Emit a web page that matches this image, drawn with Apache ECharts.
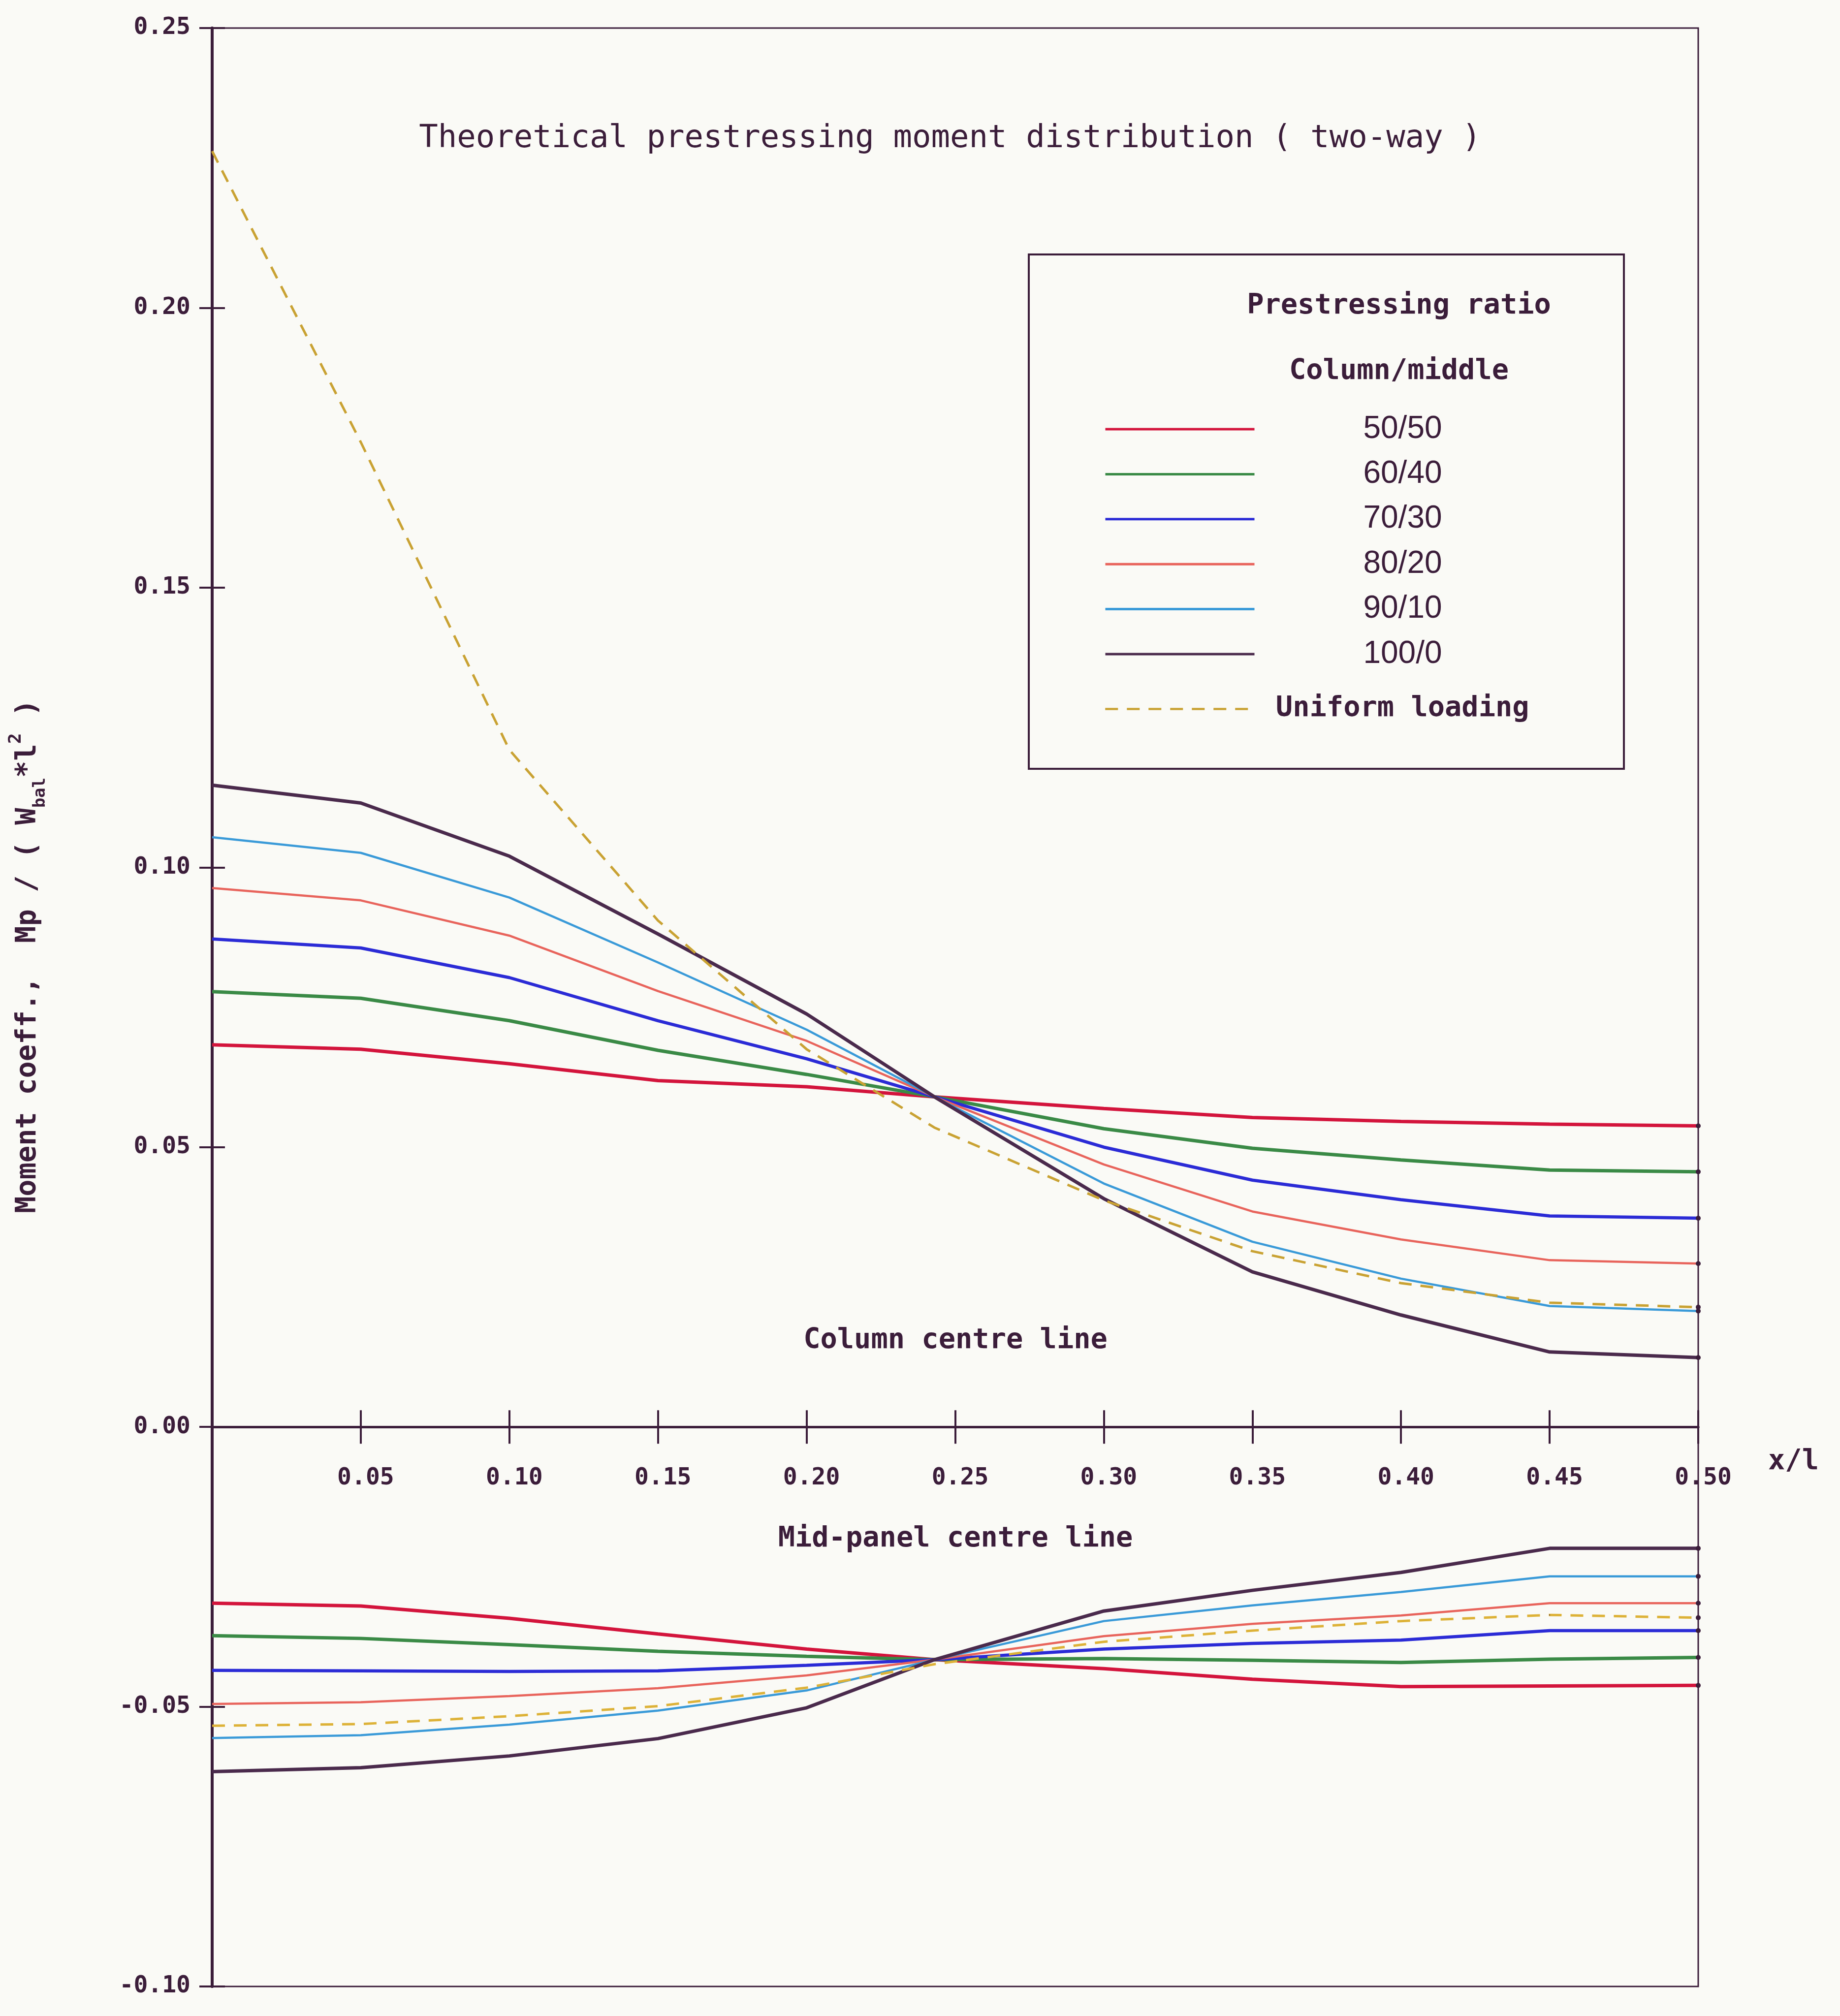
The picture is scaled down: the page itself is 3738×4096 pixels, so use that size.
<!DOCTYPE html>
<html>
<head>
<meta charset="utf-8">
<script src="https://cdn.jsdelivr.net/npm/echarts@6/dist/echarts.min.js"></script>
<style>
html,body{margin:0;padding:0;background:#fafaf6;}
#chart{width:3738px;height:4096px;}
</style>
</head>
<body>
<div id="chart"></div>
<script>
// x/l positions of the computed points
const xPos = [0, 0.05, 0.10, 0.15, 0.20, 0.243, 0.30, 0.35, 0.40, 0.45, 0.50];
const xTicks = [0.05, 0.10, 0.15, 0.20, 0.25, 0.30, 0.35, 0.40, 0.45, 0.50];
const yTicks = [-0.10, -0.05, 0.00, 0.05, 0.10, 0.15, 0.20, 0.25];

const ratioNames = ['50/50', '60/40', '70/30', '80/20', '90/10', '100/0'];
const uniformName = 'Uniform loading';

// Column centre line (upper curves)
const col50  = [0.0683, 0.0675, 0.0649, 0.0619, 0.0608, 0.0590, 0.0569, 0.0553, 0.0546, 0.0541, 0.0538];
const col60  = [0.0778, 0.0766, 0.0726, 0.0673, 0.0630, 0.0590, 0.0533, 0.0498, 0.0477, 0.0459, 0.0456];
const col70  = [0.0872, 0.0856, 0.0803, 0.0726, 0.0658, 0.0590, 0.0500, 0.0441, 0.0406, 0.0377, 0.0373];
const col80  = [0.0963, 0.0941, 0.0878, 0.0779, 0.0690, 0.0590, 0.0469, 0.0385, 0.0335, 0.0298, 0.0292];
const col90  = [0.1054, 0.1026, 0.0946, 0.0830, 0.0710, 0.0590, 0.0435, 0.0331, 0.0265, 0.0216, 0.0207];
const col100 = [0.1147, 0.1115, 0.1020, 0.0881, 0.0738, 0.0590, 0.0408, 0.0277, 0.0200, 0.0134, 0.0124];
const colUni = [0.2280, 0.1760, 0.1210, 0.0905, 0.0675, 0.0535, 0.0405, 0.0314, 0.0257, 0.0222, 0.0214];

// Mid-panel centre line (lower curves)
const mid50  = [-0.0315, -0.0320, -0.0342, -0.0370, -0.0397, -0.0416, -0.0432, -0.0451, -0.0464, -0.0463, -0.0462];
const mid60  = [-0.0373, -0.0378, -0.0389, -0.0401, -0.0410, -0.0416, -0.0414, -0.0417, -0.0421, -0.0415, -0.0412];
const mid70  = [-0.0435, -0.0436, -0.0437, -0.0436, -0.0426, -0.0416, -0.0397, -0.0387, -0.0381, -0.0364, -0.0364];
const mid80  = [-0.0495, -0.0492, -0.0481, -0.0467, -0.0444, -0.0416, -0.0374, -0.0352, -0.0337, -0.0315, -0.0315];
const mid90  = [-0.0556, -0.0551, -0.0532, -0.0507, -0.0471, -0.0416, -0.0347, -0.0319, -0.0295, -0.0267, -0.0267];
const mid100 = [-0.0616, -0.0609, -0.0588, -0.0557, -0.0502, -0.0416, -0.0329, -0.0292, -0.0260, -0.0217, -0.0217];
const midUni = [-0.0534, -0.0531, -0.0517, -0.0499, -0.0466, -0.0424, -0.0384, -0.0364, -0.0347, -0.0336, -0.0341];

const colSets = [col50, col60, col70, col80, col90, col100];
const midSets = [mid50, mid60, mid70, mid80, mid90, mid100];

const colors = ['#d3143c', '#3a8a46', '#2b2bd6', '#e8645c', '#3a9ad8', '#4a2a4c'];
const widths = [7, 7, 6.5, 4.5, 4.5, 7];
const uniColor = '#c9a233';
const ink = '#3b1d3a';
const mono = "'DejaVu Sans Mono', monospace";

function pairs(vals) { return xPos.map((x, i) => [x, vals[i]]); }
const lastIdx = xPos.length - 1;
const endDot = (v, p) => (p.dataIndex === lastIdx ? 10 : 0);

const series = [];
ratioNames.forEach((n, k) => {
  [colSets[k], midSets[k]].forEach(vals => {
    series.push({
      name: n, type: 'line', data: pairs(vals), symbol: 'circle', symbolSize: endDot, showSymbol: true,
      smooth: false, xAxisIndex: 0, yAxisIndex: 0,
      lineStyle: { color: colors[k], width: widths[k] }, itemStyle: { color: ink }
    });
  });
});
[colUni, midUni].forEach(vals => {
  series.push({
    name: uniformName, type: 'line', data: pairs(vals), symbol: 'circle', symbolSize: endDot, showSymbol: true,
    smooth: false, xAxisIndex: 0, yAxisIndex: 0,
    lineStyle: { color: uniColor, width: 5, type: [26, 18] }, itemStyle: { color: ink }
  });
});

const xMin = 0, xMax = 0.5, xInt = 0.05;
const yMin = yTicks[0], yMax = yTicks[yTicks.length - 1], yInt = 0.05;

// plot geometry
const HH = 4096;
const G = { left: 431, right: 288, top: 57, bottom: 60 };
const H = HH - G.top - G.bottom;
const zeroY = G.top + H * (yMax - 0) / (yMax - yMin);

const hiddenY = (gi) => ({ type: 'value', gridIndex: gi, min: 0, max: 1, show: false });

const chart = echarts.init(document.getElementById('chart'), null, { renderer: 'canvas' });
chart.setOption({
  animation: false,
  backgroundColor: '#fafaf6',
  grid: [
    { left: G.left, right: G.right, top: G.top, bottom: G.bottom,
      show: true, borderColor: ink, borderWidth: 3, backgroundColor: 'transparent', outerBoundsMode: 'none' },
    { left: G.left, right: G.right, top: G.top, bottom: HH - zeroY, show: false, outerBoundsMode: 'none' },
    { left: G.left, right: G.right, top: zeroY, bottom: G.bottom, show: false, outerBoundsMode: 'none' }
  ],
  xAxis: [
    { type: 'value', gridIndex: 0, min: xMin, max: xMax, interval: xInt, show: false },
    { type: 'value', gridIndex: 1, min: xMin, max: xMax, interval: xInt, position: 'bottom',
      axisLine: { show: true, onZero: false, lineStyle: { color: ink, width: 5 } },
      axisTick: { show: true, inside: false, length: 34, lineStyle: { color: ink, width: 4 } },
      axisLabel: {
        show: true, margin: 80, color: ink, fontFamily: mono, fontWeight: 'bold', fontSize: 48,
        padding: [0, 0, 0, 20],
        formatter: v => (xTicks.some(t => Math.abs(t - v) < 1e-9) ? v.toFixed(2) : '')
      },
      splitLine: { show: false } },
    { type: 'value', gridIndex: 2, min: xMin, max: xMax, interval: xInt, position: 'top',
      axisLine: { show: true, onZero: false, lineStyle: { color: ink, width: 5 } },
      axisTick: { show: true, inside: false, length: 34, lineStyle: { color: ink, width: 4 } },
      axisLabel: { show: false }, splitLine: { show: false } }
  ],
  yAxis: [
    { type: 'value', gridIndex: 0, min: yMin, max: yMax, interval: yInt, position: 'left',
      axisLine: { show: true, onZero: false, lineStyle: { color: ink, width: 6 } },
      axisTick: { show: true, inside: false, length: 26, lineStyle: { color: ink, width: 4 } },
      axisLabel: { show: true, margin: 44, color: ink, fontFamily: mono, fontWeight: 'bold', fontSize: 48,
        formatter: v => (Math.abs(v) < 1e-9 ? '0.00' : v.toFixed(2)) },
      splitLine: { show: false } },
    hiddenY(1), hiddenY(2),
    { type: 'value', gridIndex: 0, min: yMin, max: yMax, interval: yInt, position: 'left',
      axisLine: { show: true, onZero: false, lineStyle: { color: ink, width: 6 } },
      axisTick: { show: true, inside: true, length: 26, lineStyle: { color: ink, width: 4 } },
      axisLabel: { show: false }, splitLine: { show: false } }
  ],
  legend: [{
    data: ratioNames, orient: 'vertical', left: 2238, top: 835,
    itemWidth: 303, itemHeight: 64, itemGap: 27.4, selectedMode: false,
    itemStyle: { opacity: 0 }, lineStyle: { width: 5 },
    formatter: name => '{c|' + name + '}',
    textStyle: { rich: { c: { width: 592, align: 'center', fontFamily: "'Liberation Sans', sans-serif", fontSize: 64, lineHeight: 64, color: ink } } }
  }, {
    data: [uniformName], orient: 'vertical', left: 2238, top: 1407,
    itemWidth: 303, itemHeight: 64, selectedMode: false,
    itemStyle: { opacity: 0 }, lineStyle: { width: 4.5 },
    formatter: name => '{c|' + name + '}',
    textStyle: { rich: { c: { width: 592, align: 'center', fontFamily: mono, fontWeight: 'bold', fontSize: 57, lineHeight: 64, color: ink } } }
  }],
  graphic: [
    { type: 'rect', shape: { x: 2090, y: 517, width: 1209, height: 1045 }, style: { fill: 'transparent', stroke: ink, lineWidth: 4 }, z: 10 },
    { type: 'text', x: 1930, y: 282, style: { text: 'Theoretical prestressing moment distribution ( two-way )', fontFamily: mono, fontSize: 64, fill: ink, align: 'center', verticalAlign: 'middle' }, z: 10 },
    { type: 'text', x: 2842, y: 622, style: { text: 'Prestressing ratio', fontFamily: mono, fontWeight: 'bold', fontSize: 57, fill: ink, align: 'center', verticalAlign: 'middle' }, z: 10 },
    { type: 'text', x: 2842, y: 755, style: { text: 'Column/middle', fontFamily: mono, fontWeight: 'bold', fontSize: 57, fill: ink, align: 'center', verticalAlign: 'middle' }, z: 10 },
    { type: 'text', x: 1941, y: 2724, style: { text: 'Column centre line', fontFamily: mono, fontWeight: 'bold', fontSize: 57, fill: ink, align: 'center', verticalAlign: 'middle' }, z: 10 },
    { type: 'text', x: 1941, y: 3127, style: { text: 'Mid-panel centre line', fontFamily: mono, fontWeight: 'bold', fontSize: 57, fill: ink, align: 'center', verticalAlign: 'middle' }, z: 10 },
    { type: 'text', x: 3592, y: 2970, style: { text: 'x/l', fontFamily: mono, fontWeight: 'bold', fontSize: 57, fill: ink, align: 'left', verticalAlign: 'middle' }, z: 10 },
    { type: 'text', x: 57, y: 1943, rotation: Math.PI / 2,
      style: {
        text: '{a|Moment coeff.,  Mp / ( W}{s|bal}{a|*l}{p|2}{a| )}',
        align: 'center', verticalAlign: 'middle', fill: ink,
        rich: {
          a: { fontFamily: mono, fontWeight: 'bold', fontSize: 57, lineHeight: 84, fill: ink, color: ink },
          s: { fontFamily: mono, fontWeight: 'bold', fontSize: 34, lineHeight: 34, verticalAlign: 'bottom', fill: ink, color: ink },
          p: { fontFamily: mono, fontWeight: 'bold', fontSize: 36, lineHeight: 36, verticalAlign: 'top', fill: ink, color: ink }
        }
      }, z: 10 }
  ],
  series: series
});
</script>
</body>
</html>
